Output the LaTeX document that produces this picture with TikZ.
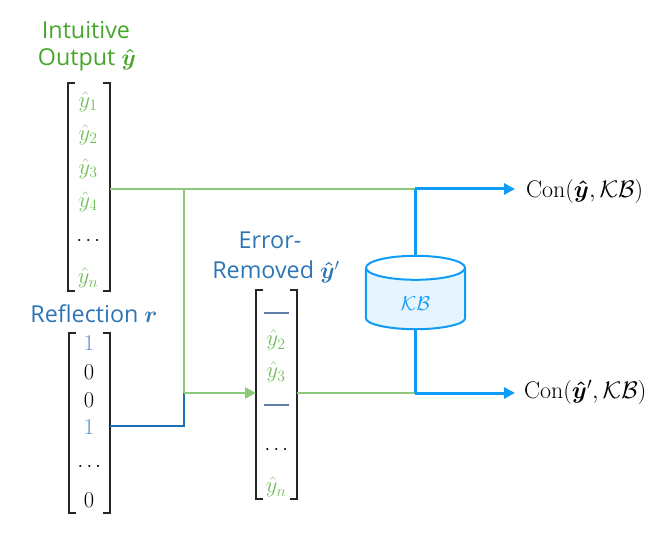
\RequirePackage{fix-cm}
\documentclass[tikz,border=0pt]{standalone}
\usepackage{amsmath}
\usepackage{bm}
\usepackage[no-math]{fontspec}
\setmainfont{Open Sans}
\usetikzlibrary{arrows.meta}
\definecolor{titlegreen}{HTML}{46A62C}
\definecolor{entrygreen}{HTML}{6FBC5A}
\definecolor{linegreen}{HTML}{8CC97A}
\definecolor{titleblue}{HTML}{2E75B6}
\definecolor{entryblue}{HTML}{4F8FD0}
\definecolor{lineblue}{HTML}{1F6DB2}
\definecolor{kbblue}{HTML}{0F9BF8}
\definecolor{kbfill}{HTML}{E6F4FD}
\definecolor{dashblue}{HTML}{5F7FA6}
\tikzset{
  x=1pt,y=-1pt,
  title/.style={font=\fontsize{23.3}{24}\selectfont,inner sep=0pt,anchor=center},
  entry/.style={font=\fontsize{22.5}{23}\selectfont,inner sep=0pt,anchor=center},
  dotsentry/.style={font=\fontsize{20}{20}\selectfont,inner sep=0pt,anchor=center},
  vecbox/.style={draw=none,inner sep=0pt,minimum width=#1,anchor=north west},
  bracket/.style={line width=1.9pt,draw=black!85},
  glink/.style={line width=2.6pt,draw=linegreen},
  blink/.style={line width=2.6pt,draw=lineblue},
  klink/.style={line width=3pt,draw=kbblue},
  kbline/.style={line width=2pt,draw=kbblue},
  tip/.style={-{Triangle[length=11pt,width=11pt]}},
  result/.style={font=\fontsize{24}{25}\selectfont,inner sep=0pt,anchor=west},
  blank/.style={line width=1.6pt,draw=dashblue}
}
\newcommand{\vecbrackets}[1]{%
  \draw[bracket] ([xshift=7pt]#1.north west) -- (#1.north west) -- (#1.south west) -- ([xshift=7pt]#1.south west);
  \draw[bracket] ([xshift=-7pt]#1.north east) -- (#1.north east) -- (#1.south east) -- ([xshift=-7pt]#1.south east);}
\begin{document}
\begin{tikzpicture}
\useasboundingbox (0,0) rectangle (669,537);
% titles
\node[title,text=titlegreen] (t1a) at (86,30) {Intuitive};
\node[title,text=titlegreen] (t1b) at (87,60) {Output $\bm{\hat y}$};
\node[title,text=titleblue] (t2) at (94,314) {Reflection $\bm{r}$};
\node[title,text=titleblue] (t3a) at (270,240) {Error-};
\node[title,text=titleblue] (t3b) at (276,272) {Removed $\bm{\hat y}'$};
% vectors
\node[vecbox=42pt,minimum height=208pt] (v1) at (68,83) {};
\node[vecbox=41pt,minimum height=180pt] (v2) at (69,333) {};
\node[vecbox=41pt,minimum height=209pt] (v3) at (256,290) {};
\vecbrackets{v1}\vecbrackets{v2}\vecbrackets{v3}
% entries of the first
\node[entry,text=entrygreen] (a1) at (88,102) {$\hat y_1$};
\node[entry,text=entrygreen] (a2) at (88,135) {$\hat y_2$};
\node[entry,text=entrygreen] (a3) at (88,169) {$\hat y_3$};
\node[entry,text=entrygreen] (a4) at (88,202) {$\hat y_4$};
\node[dotsentry] (a5) at (90,241) {$\cdots$};
\node[entry,text=entrygreen] (a6) at (88,278) {$\hat y_n$};
% entries of the second
\node[entry,text=entryblue] (b1) at (89,343) {$1$};
\node[entry] (b2) at (89,372) {$0$};
\node[entry] (b3) at (89,400) {$0$};
\node[entry,text=entryblue] (b4) at (89,427) {$1$};
\node[dotsentry] (b5) at (91,467) {$\cdots$};
\node[entry] (b6) at (89,500) {$0$};
% entries of the third
\node[inner sep=0pt,minimum width=25pt,minimum height=0pt] (c1) at (276.5,313) {};
\draw[blank] (c1.west) -- (c1.east);
\node[entry,text=entrygreen] (c2) at (276,340) {$\hat y_2$};
\node[entry,text=entrygreen] (c3) at (276,372) {$\hat y_3$};
\node[inner sep=0pt,minimum width=25pt,minimum height=0pt] (c4) at (276.5,405) {};
\draw[blank] (c4.west) -- (c4.east);
\node[dotsentry] (c5) at (278,450) {$\cdots$};
\node[entry,text=entrygreen] (c6) at (276,487) {$\hat y_n$};
% knowledge base
\node[inner sep=0pt,minimum width=99pt,minimum height=73pt] (kb) at (415.5,292.5) {};
\draw[kbline,fill=kbfill] ([yshift=-12pt]kb.north west) -- ([yshift=11pt]kb.south west)
  .. controls ([yshift=5pt]kb.south west) and ([xshift=-27pt]kb.south) .. (kb.south)
  .. controls ([xshift=27pt]kb.south) and ([yshift=5pt]kb.south east) .. ([yshift=11pt]kb.south east)
  -- ([yshift=-12pt]kb.north east);
\draw[kbline,fill=white] ([yshift=-12pt]kb.north) ellipse [x radius=49.5pt,y radius=12pt];
\node[entry,text=kbblue,font=\fontsize{20}{20}\selectfont] (kbl) at (415.5,303.5) {$\mathcal{KB}$};
% outputs
\node[result] (r1) at (526,192) {$\mathrm{Con}(\bm{\hat y},\mathcal{KB})$};
\node[result] (r2) at (524,392) {$\mathrm{Con}(\bm{\hat y}',\mathcal{KB})$};
% junctions
\coordinate (o1) at (v1.east |- 0,189);
\coordinate (j1) at (184,189);
\coordinate (k1) at (415,189);
\coordinate (o2) at (v2.east |- 0,426);
\coordinate (j2) at (184,426);
\coordinate (j3) at (184,393);
\coordinate (i3) at (v3.west |- 0,393);
\coordinate (o3) at (v3.east |- 0,393);
\coordinate (k2) at (415,393);
\coordinate (e1) at (515,189);
\coordinate (e2) at (515,393);
% connectors
\draw[glink] (o1) -- (k1);
\draw[glink] (o3) -- (k2);
\draw[blink] (o2) -- (j2) -- (j3);
\draw[glink] (j1) -- (j3);
\draw[glink,tip] (j3) -- (i3);
\draw[klink,tip] (k1) -- (e1);
\draw[klink,tip] (k2) -- (e2);
\draw[klink] (k1) -- (k1 |- kb.north);
\draw[klink] (k2) -- (k2 |- kb.south);
\end{tikzpicture}
\end{document}
